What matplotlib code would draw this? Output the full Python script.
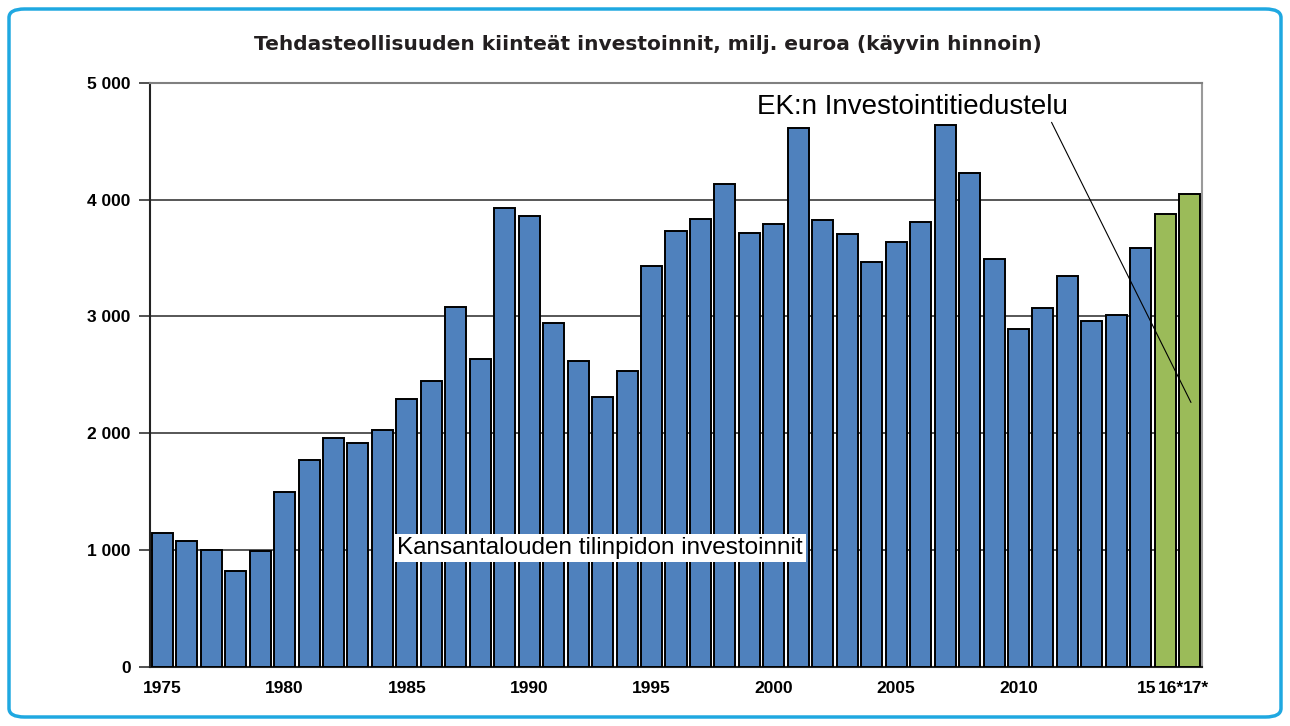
import matplotlib

matplotlib.use("Agg")
import matplotlib.pyplot as plt
from matplotlib.patches import FancyBboxPatch

# Tehdasteollisuuden kiinteät investoinnit 1975-2017, milj. euroa
years = list(range(1975, 2018))
values = [
    1147, 1079, 1002, 822, 993, 1498, 1772, 1960, 1918, 2029,
    2295, 2449, 3082, 2637, 3930, 3861, 2945, 2620, 2312, 2534,
    3427, 3733, 3836, 4135, 3716, 3790, 4615, 3827, 3707, 3467,
    3639, 3810, 4640, 4229, 3493, 2894, 3074, 3348, 2962, 3014,
    3587, 3878, 4050,
]
forecast_years = [2016, 2017]
tick_years = [1975, 1980, 1985, 1990, 1995, 2000, 2005, 2010, 2015, 2016, 2017]
tick_labels = ["1975", "1980", "1985", "1990", "1995", "2000", "2005", "2010", "15", "16*", "17*"]
y_ticks = [0, 1000, 2000, 3000, 4000, 5000]
y_labels = ["0", "1 000", "2 000", "3 000", "4 000", "5 000"]

BLUE = "#4F81BD"
GREEN = "#9BBB59"

fig = plt.figure(figsize=(12.9, 7.26), dpi=100)

# rounded light-blue frame around the whole picture
frame = FancyBboxPatch(
    (9 / 1290, 9 / 726), 1272 / 1290, 708 / 726,
    boxstyle="round,pad=0,rounding_size=0.012",
    transform=fig.transFigure, fill=False, edgecolor="#1FA8E1", linewidth=2.5,
)
fig.patches.append(frame)

fig.text(
    648 / 1290, 1 - 44 / 726,
    "Tehdasteollisuuden kiinteät investoinnit, milj. euroa (käyvin hinnoin)",
    ha="center", va="center", fontsize=14.5, fontweight="bold",
    family="DejaVu Sans", color="#231F20",
)

ax = fig.add_axes([150 / 1290, 1 - 666.7 / 726, 1052 / 1290, 584 / 726])

positions = list(range(len(years)))
colors = [GREEN if y in forecast_years else BLUE for y in years]
ax.bar(positions, values, width=0.86, color=colors, edgecolor="black",
       linewidth=1.4, zorder=3)

ax.set_xlim(-0.5, len(years) - 0.5)
ax.set_ylim(0, 5000)
ax.set_yticks(y_ticks)
ax.set_yticklabels(y_labels)
ax.set_xticks([years.index(y) + (0.25 if y >= 2015 else 0) for y in tick_years])
ax.set_xticklabels(tick_labels)

for y in y_ticks[1:]:
    ax.axhline(y, color="#3a3a3a", linewidth=1.2, zorder=1)

for label in ax.get_xticklabels() + ax.get_yticklabels():
    label.set_family("Liberation Sans")
    label.set_fontweight("bold")
    label.set_fontsize(12.5)

ax.tick_params(axis="y", direction="out", length=8, width=1.2, pad=6, color="#333333")
ax.tick_params(axis="x", length=0, pad=10)

ax.spines["left"].set_linewidth(1.5)
ax.spines["left"].set_color("#222222")
ax.spines["bottom"].set_linewidth(1.5)
ax.spines["bottom"].set_color("#222222")
ax.spines["top"].set_color("#808080")
ax.spines["top"].set_linewidth(1.5)
ax.spines["right"].set_color("#9a9a9a")
ax.spines["right"].set_linewidth(1.5)

ax.text(17.89, 1017, "Kansantalouden tilinpidon investoinnit", ha="center",
        va="center", fontsize=17.5, family="Liberation Sans", zorder=5,
        bbox=dict(facecolor="white", edgecolor="none", pad=2.5))

ax.text(30.68, 4794, "EK:n Investointitiedustelu", ha="center", va="center",
        fontsize=20, family="Liberation Sans", zorder=5)
ax.annotate("", xy=(42.1, 2241), xytext=(36.3, 4682),
            arrowprops=dict(arrowstyle="-", lw=0.8, color="black"), zorder=6)

fig.savefig("out.png", dpi=100)
plt.close(fig)
